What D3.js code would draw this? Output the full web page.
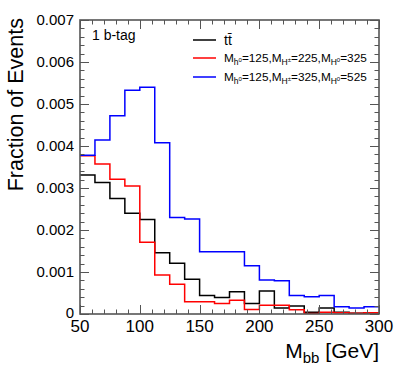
<!DOCTYPE html>
<html>
<head>
<meta charset="utf-8">
<script src="https://cdn.jsdelivr.net/npm/d3@7"></script>
<style>
html,body{margin:0;padding:0;background:#fff;}
text{font-family:"Liberation Sans",Arial,Helvetica,sans-serif;}
</style>
</head>
<body>
<svg id="c" width="399" height="375"></svg>
<script>
// bin low edges (GeV), bin width 12.5
const binLow = [50, 62.5, 75, 87.5, 100, 112.5, 125, 137.5, 150, 162.5, 175, 187.5, 200, 212.5, 225, 237.5, 250, 262.5, 275, 287.5];
const binHigh = 300;
// values in units of 1e-3 (fraction of events)
const ttbar = [3.31, 3.13, 2.75, 2.40, 2.25, 1.46, 1.21, 0.83, 0.44, 0.39, 0.53, 0.25, 0.55, 0.14, 0.19, 0.04, 0.14, 0.04, 0.02, 0.03];
const sig225 = [3.77, 3.57, 3.21, 3.05, 1.71, 0.93, 0.71, 0.29, 0.29, 0.25, 0.33, 0.11, 0.21, 0.21, 0.10, 0.01, 0.04, 0.03, 0.02, 0.03];
const sig325 = [3.78, 4.14, 4.72, 5.33, 5.40, 4.08, 2.30, 2.26, 1.48, 1.48, 1.48, 1.15, 0.81, 0.79, 0.44, 0.41, 0.44, 0.17, 0.14, 0.17];
const xTicks = [50, 100, 150, 200, 250, 300];
const yTicks = [0, 0.001, 0.002, 0.003, 0.004, 0.005, 0.006, 0.007];
const yTickLabels = ["0", "0.001", "0.002", "0.003", "0.004", "0.005", "0.006", "0.007"];
const seriesColors = ["#000000", "#ff0000", "#0000ff"];

const svg = d3.select("#c");
const L = 80, R = 379, T = 20, B = 314;
const x = d3.scaleLinear().domain([50, 300]).range([L, R]);
const y = d3.scaleLinear().domain([0, 0.007]).range([B, T]);

const line = d3.line().x(d => x(d[0])).y(d => y(d[1])).curve(d3.curveStepAfter);
function pts(vals) {
  const p = binLow.map((e, i) => [e, vals[i] * 1e-3]);
  p.push([binHigh, vals[vals.length - 1] * 1e-3]);
  return p;
}
const series = [ttbar, sig225, sig325];
const g = svg.append("g");
g.append("defs").append("clipPath").attr("id", "clip").append("rect")
  .attr("x", L).attr("y", T).attr("width", R - L).attr("height", B - T);
series.forEach((s, i) => {
  g.append("path").attr("d", line(pts(s))).attr("fill", "none")
    .attr("stroke", seriesColors[i]).attr("stroke-width", 1.5)
    .attr("clip-path", "url(#clip)");
});

// frame and ticks (ROOT style, ticks inside)
const frameCol = "#555";
const yMinor = d3.range(0, 36).map(i => i * 0.0002).filter(v => v <= 0.007001);
const xMinor = d3.range(0, 26).map(i => 50 + i * 10);
const tg = svg.append("g").attr("stroke", frameCol).attr("stroke-width", 1);
yMinor.forEach((v, i) => {
  const len = (i % 5 === 0) ? 9 : 4.5;
  const yy = Math.round(y(v)) + 0.5;
  tg.append("line").attr("x1", L).attr("x2", L + len).attr("y1", yy).attr("y2", yy);
  tg.append("line").attr("x1", R).attr("x2", R - len).attr("y1", yy).attr("y2", yy);
});
xMinor.forEach((v, i) => {
  const len = (i % 5 === 0) ? 9 : 4.5;
  const xx = Math.round(x(v)) + 0.5;
  tg.append("line").attr("x1", xx).attr("x2", xx).attr("y1", B).attr("y2", B - len);
  tg.append("line").attr("x1", xx).attr("x2", xx).attr("y1", T).attr("y2", T + len);
});
svg.append("rect").attr("x", L).attr("y", T).attr("width", R - L).attr("height", B - T)
  .attr("fill", "none").attr("stroke", frameCol).attr("stroke-width", 1.6);

// tick labels
yTicks.forEach((v, i) => {
  svg.append("text").attr("x", 74).attr("y", y(v)).attr("dy", i === 0 ? "0.25em" : "0.36em")
    .attr("text-anchor", "end").attr("font-size", 15).text(yTickLabels[i]);
});
xTicks.forEach(v => {
  svg.append("text").attr("x", x(v)).attr("y", 332)
    .attr("text-anchor", "middle").attr("font-size", 17).text(v);
});

// axis titles
const xt = svg.append("text").attr("x", 379).attr("y", 358).attr("text-anchor", "end").attr("font-size", 21);
xt.append("tspan").text("M");
xt.append("tspan").attr("font-size", 15).attr("dy", 5).text("bb");
xt.append("tspan").attr("dy", -5).text(" [GeV]");

svg.append("text").attr("transform", "translate(23,18) rotate(-90)")
  .attr("text-anchor", "end").attr("font-size", 21.5).text("Fraction of Events");

// label
svg.append("text").attr("x", 92).attr("y", 40).attr("font-size", 14).text("1 b-tag");

// legend
const legY = [40, 58, 77];
seriesColors.forEach((c, i) => {
  svg.append("line").attr("x1", 193).attr("x2", 216).attr("y1", legY[i]).attr("y2", legY[i])
    .attr("stroke", c).attr("stroke-width", 1.5);
});
const t0 = svg.append("text").attr("x", 224).attr("y", legY[0] + 5).attr("font-size", 14);
t0.append("tspan").text("t");
t0.append("tspan").text("t\u0304");

const hMasses = [["225", "325"], ["325", "525"]];
hMasses.forEach((m, i) => {
  const t = svg.append("text").attr("x", 224).attr("y", legY[i + 1] + 4).attr("font-size", 11.8);
  t.append("tspan").text("M");
  t.append("tspan").attr("font-size", 8.5).attr("dy", 3).text("h");
  t.append("tspan").attr("font-size", 6).attr("dy", -3.5).text("0");
  t.append("tspan").attr("dy", 0.5).text("=125,M");
  t.append("tspan").attr("font-size", 8.5).attr("dy", 3).text("H");
  t.append("tspan").attr("font-size", 6).attr("dy", -3.5).text("\u00b1");
  t.append("tspan").attr("dy", 0.5).text("=" + m[0] + ",M");
  t.append("tspan").attr("font-size", 8.5).attr("dy", 3).text("H");
  t.append("tspan").attr("font-size", 6).attr("dy", -3.5).text("0");
  t.append("tspan").attr("dy", 0.5).text("=" + m[1]);
});
</script>
</body>
</html>
